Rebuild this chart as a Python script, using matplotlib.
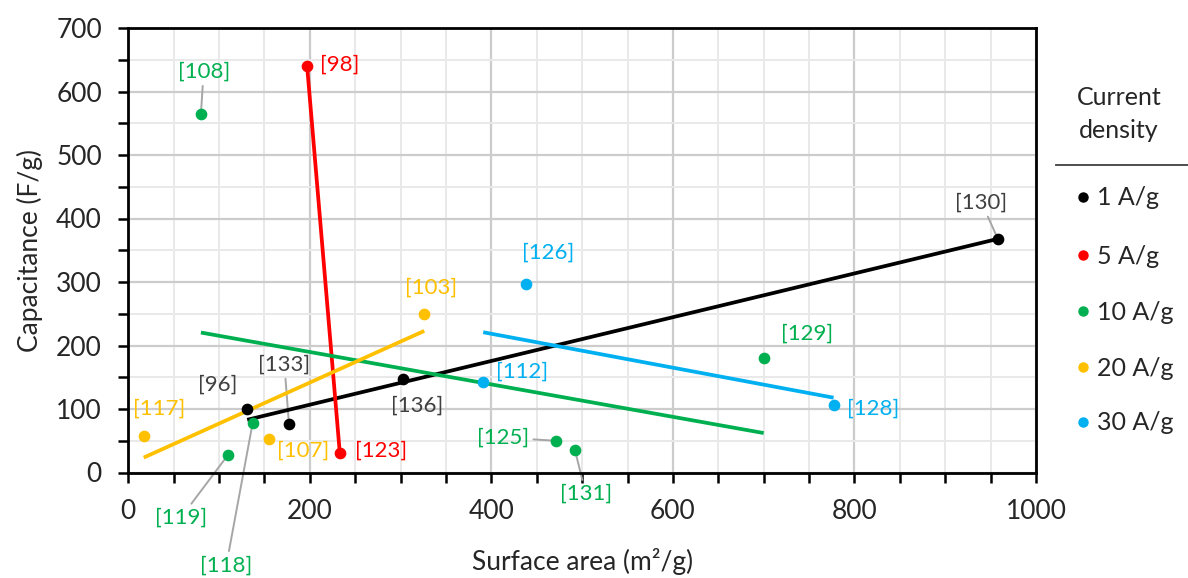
import numpy as np
import matplotlib
matplotlib.use('Agg')
import matplotlib.pyplot as plt
from matplotlib.lines import Line2D
from matplotlib.ticker import MultipleLocator

plt.rcParams['font.family'] = ['Lato', 'DejaVu Sans']

# ---------------- data ----------------
series_names = ['1 A/g', '5 A/g', '10 A/g', '20 A/g', '30 A/g']

x_1 = [131, 177, 303, 958]
y_1 = [100, 76, 148, 368]
ref_1 = ['[96]', '[133]', '[136]', '[130]']

x_5 = [197, 233]
y_5 = [640, 31]
ref_5 = ['[98]', '[123]']

x_10 = [80, 110, 137, 471, 492, 700]
y_10 = [565, 28, 78, 50, 36, 180]
ref_10 = ['[108]', '[119]', '[118]', '[125]', '[131]', '[129]']

x_20 = [17, 155, 326]
y_20 = [57, 52, 250]
ref_20 = ['[117]', '[107]', '[103]']

x_30 = [391, 438, 777]
y_30 = [143, 297, 107]
ref_30 = ['[112]', '[126]', '[128]']

xs = [x_1, x_5, x_10, x_20, x_30]
ys = [y_1, y_5, y_10, y_20, y_30]
refs = [ref_1, ref_5, ref_10, ref_20, ref_30]

# ---------------- styles / layout ----------------
colors = ['#000000', '#ff0000', '#00b050', '#ffc000', '#00b0f0']
label_colors = ['#404040', '#ff0000', '#00b050', '#ffc000', '#00b0f0']

# label placement (data coords of the text centre) and whether it has a leader line
label_pos = {
    '[96]': (99, 139, False),
    '[133]': (172, 170, True),
    '[136]': (318, 105, False),
    '[130]': (940, 425, True),
    '[98]': (233, 642, False),
    '[123]': (278, 35, False),
    '[108]': (83, 631, True),
    '[119]': (58, -71, True),
    '[118]': (108, -146, True),
    '[125]': (413, 55, True),
    '[131]': (504, -34, True),
    '[129]': (748, 218, False),
    '[117]': (34, 100, False),
    '[107]': (193, 35, False),
    '[103]': (333, 291, False),
    '[112]': (434, 159, False),
    '[126]': (463, 346, False),
    '[128]': (821, 100, False),
}

W, H = 1188, 578
fig = plt.figure(figsize=(W / 100, H / 100), dpi=100)
ax = fig.add_axes([128.3 / W, 1 - 472.5 / H, 907.7 / W, 444.5 / H])

ax.set_xlim(0, 1000)
ax.set_ylim(0, 700)

ax.xaxis.set_major_locator(MultipleLocator(200))
ax.xaxis.set_minor_locator(MultipleLocator(50))
ax.yaxis.set_major_locator(MultipleLocator(100))
ax.yaxis.set_minor_locator(MultipleLocator(50))

ax.grid(which='major', color='#cccccc', lw=1.6, zorder=0)
ax.grid(which='minor', color='#e9e9e9', lw=1.4, zorder=0)
ax.set_axisbelow(True)

for s in ax.spines.values():
    s.set_color('black')
    s.set_linewidth(2.0)

ax.tick_params(which='both', direction='out', length=7, width=1.8, color='black')
ax.tick_params(axis='x', which='major', pad=12, labelsize=19, labelcolor='#262626')
ax.tick_params(axis='y', which='major', pad=12, labelsize=19, labelcolor='#262626')

ax.set_xlabel('Surface area (m²/g)', fontsize=19, color='#262626')
ax.set_ylabel('Capacitance (F/g)', fontsize=19, color='#262626')
ax.xaxis.set_label_coords(0.5, -0.2)
ax.xaxis.label.set_va('center')
ax.yaxis.set_label_coords(-0.108, 0.5)
ax.yaxis.label.set_va('center')

for xv, yv, rv, c, lc in zip(xs, ys, refs, colors, label_colors):
    xa = np.array(xv, dtype=float)
    ya = np.array(yv, dtype=float)
    k, b = np.polyfit(xa, ya, 1)
    xl = np.array([xa.min(), xa.max()])
    ax.plot(xl, k * xl + b, color=c, lw=2.7, solid_capstyle='butt', zorder=3)
    ax.plot(xa, ya, 'o', color=c, ms=7.4, zorder=4, clip_on=False)
    for px, py, r in zip(xa, ya, rv):
        tx, ty, lead = label_pos[r]
        if lead:
            ax.annotate(r, xy=(px, py), xytext=(tx, ty), textcoords='data',
                        ha='center', va='center', fontsize=16, color=lc,
                        annotation_clip=False,
                        arrowprops=dict(arrowstyle='-', color='#a6a6a6', lw=1.4,
                                        shrinkA=1, shrinkB=0),
                        zorder=2)
        else:
            ax.text(tx, ty, r, ha='center', va='center', fontsize=16, color=lc,
                    zorder=5)

# ---------------- legend (manual) ----------------
fig.text(1119 / W, 1 - 98 / H, 'Current', ha='center', va='center', fontsize=18,
         color='#262626')
fig.text(1119 / W, 1 - 131 / H, 'density', ha='center', va='center', fontsize=18,
         color='#262626')
fig.add_artist(Line2D([1056 / W, 1.0], [1 - 165 / H, 1 - 165 / H],
                      transform=fig.transFigure, color='#404040', lw=1.3))
leg_y = [197, 255, 311, 367, 422]
for name, c, yy in zip(series_names, colors, leg_y):
    fig.add_artist(Line2D([1083 / W], [1 - yy / H], marker='o', ms=6.5, color=c,
                          lw=0, transform=fig.transFigure))
    fig.text(1097 / W, 1 - (yy + 1) / H, name, ha='left', va='center', fontsize=18,
             color='#262626')

fig.savefig('out.png', dpi=100)
